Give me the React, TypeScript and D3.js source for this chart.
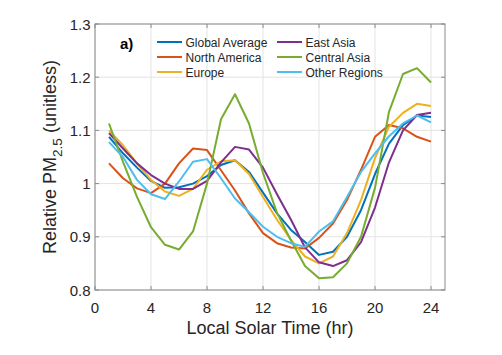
import React from "react";
import * as d3 from "d3";

const hours = [1,2,3,4,5,6,7,8,9,10,11,12,13,14,15,16,17,18,19,20,21,22,23,24];
const globalAvg = [1.088,1.057,1.03,1.005,0.992,0.993,1.0,1.014,1.035,1.044,1.022,0.983,0.944,0.913,0.89,0.866,0.872,0.9,0.95,1.018,1.075,1.11,1.128,1.125];
const northAmerica = [1.038,1.01,0.991,0.982,1.0,1.038,1.066,1.063,1.025,0.987,0.944,0.907,0.888,0.88,0.878,0.898,0.925,0.969,1.026,1.088,1.11,1.104,1.088,1.079];
const europe = [1.1,1.072,1.038,1.007,0.985,0.977,0.99,1.026,1.042,1.044,1.018,0.975,0.932,0.894,0.863,0.85,0.863,0.907,0.969,1.048,1.107,1.133,1.15,1.146];
const eastAsia = [1.095,1.066,1.038,1.016,1.0,0.99,0.99,1.005,1.04,1.069,1.064,1.03,0.98,0.932,0.88,0.852,0.845,0.856,0.89,0.955,1.04,1.1,1.129,1.133];
const centralAsia = [1.113,1.041,0.975,0.918,0.885,0.876,0.91,1.0,1.121,1.168,1.113,1.02,0.945,0.893,0.845,0.822,0.824,0.85,0.9,0.992,1.135,1.206,1.217,1.19];
const otherRegions = [1.078,1.05,1.007,0.98,0.971,1.004,1.041,1.046,1.01,0.972,0.946,0.919,0.9,0.888,0.881,0.91,0.929,0.975,1.022,1.057,1.089,1.113,1.128,1.115];

const seriesNames = ["Global Average","North America","Europe","East Asia","Central Asia","Other Regions"];
const seriesValues = [globalAvg, northAmerica, europe, eastAsia, centralAsia, otherRegions];
const colors = ["#0072BD","#D95319","#EDB120","#7E2F8E","#77AC30","#4DBEEE"];
const xTicks = [0,4,8,12,16,20,24];
const yTicks = [0.8,0.9,1.0,1.1,1.2,1.3];
const yTickLabels = ["0.8","0.9","1","1.1","1.2","1.3"];

export default function App() {
  const W = 502, H = 355;
  const left = 95, right = 445, top = 24, bottom = 290;
  const x = d3.scaleLinear().domain([0, 25]).range([left, right]);
  const y = d3.scaleLinear().domain([0.8, 1.3]).range([bottom, top]);
  const line = d3.line<[number, number]>().x(d => x(d[0])).y(d => y(d[1]));
  const font = "'Liberation Sans', Arial, Helvetica, sans-serif";
  const textColor = "#262626";
  const axisColor = "#8a8a8a";
  const tickLen = 4;

  const legendRows = [42, 57, 72];
  const legendCols = [157, 277];

  return (
    <svg width={W} height={H} style={{ position: "absolute", left: 0, top: 0, background: "#fff" }} fontFamily={font}>
      <rect x={0} y={0} width={W} height={H} fill="#fff" />
      {xTicks.map(t => (
        <line key={"gx" + t} x1={x(t)} x2={x(t)} y1={top} y2={bottom} stroke="#e3e3e3" strokeWidth={1} />
      ))}
      {yTicks.map(t => (
        <line key={"gy" + t} x1={left} x2={right} y1={y(t)} y2={y(t)} stroke="#e3e3e3" strokeWidth={1} />
      ))}
      {seriesValues.map((vals, i) => (
        <path key={seriesNames[i]} d={line(hours.map((h, j) => [h, vals[j]]) as [number, number][]) || ""}
          fill="none" stroke={colors[i]} strokeWidth={2} strokeLinejoin="round" />
      ))}
      <rect x={left} y={top} width={right - left} height={bottom - top} fill="none" stroke={axisColor} strokeWidth={1} />
      {xTicks.map(t => (
        <g key={"tx" + t}>
          <line x1={x(t)} x2={x(t)} y1={bottom} y2={bottom - tickLen} stroke={axisColor} />
          <line x1={x(t)} x2={x(t)} y1={top} y2={top + tickLen} stroke={axisColor} />
          <text x={x(t)} y={313} textAnchor="middle" fontSize={15} fill={textColor}>{t}</text>
        </g>
      ))}
      {yTicks.map((t, i) => (
        <g key={"ty" + t}>
          <line x1={left} x2={left + tickLen} y1={y(t)} y2={y(t)} stroke={axisColor} />
          <line x1={right} x2={right - tickLen} y1={y(t)} y2={y(t)} stroke={axisColor} />
          <text x={90.5} y={y(t) + 5.5} textAnchor="end" fontSize={15} fill={textColor}>{yTickLabels[i]}</text>
        </g>
      ))}
      <text x={(left + right) / 2} y={333.5} textAnchor="middle" fontSize={18} fill={textColor}>Local Solar Time (hr)</text>
      <text transform={`translate(56, ${(top + bottom) / 2}) rotate(-90)`} textAnchor="middle" fontSize={18} fill={textColor}>
        Relative PM<tspan fontSize={13.5} dy={6}>2.5</tspan><tspan dy={-6}> (unitless)</tspan>
      </text>
      <text x={120} y={49} fontSize={15} fontWeight="bold" fill="#000">a)</text>
      {seriesNames.map((name, i) => {
        const col = Math.floor(i / 3);
        const row = i % 3;
        const lx = legendCols[col];
        const ly = legendRows[row];
        return (
          <g key={"lg" + name}>
            <line x1={lx} x2={lx + 25} y1={ly} y2={ly} stroke={colors[i]} strokeWidth={2} />
            <text x={lx + 28.5} y={ly + 4.5} fontSize={12} fill={textColor}>{name}</text>
          </g>
        );
      })}
    </svg>
  );
}
